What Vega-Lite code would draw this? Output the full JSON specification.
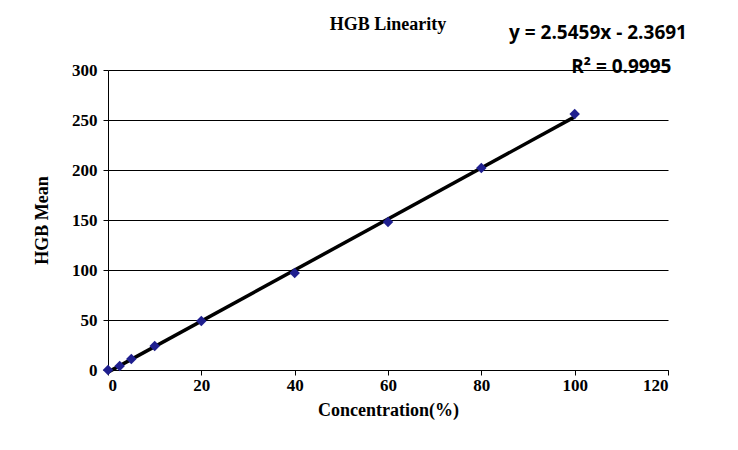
{
  "$schema": "https://vega.github.io/schema/vega-lite/v6.json",
  "width": 560,
  "height": 300,
  "autosize": "none",
  "padding": {"left": 108, "top": 70, "right": 70, "bottom": 80},
  "background": "white",
  "config": {"view": {"stroke": null}, "font": "Liberation Serif"},
  "data": {"values": [
    {"c": 0, "m": 0}, {"c": 2.5, "m": 4}, {"c": 5, "m": 11}, {"c": 10, "m": 24},
    {"c": 20, "m": 49}, {"c": 40, "m": 97}, {"c": 60, "m": 148}, {"c": 80, "m": 202}, {"c": 100, "m": 256}
  ]},
  "encoding": {
    "x": {"field": "c", "type": "quantitative", "title": "Concentration(%)",
      "scale": {"domain": [0, 120]},
      "axis": {"values": [0, 20, 40, 60, 80, 100, 120], "grid": false, "domainColor": "black", "tickColor": "black", "labelFont": "Liberation Serif", "labelFontSize": 17, "labelFontWeight": "bold", "labelColor": "black", "titleFont": "Liberation Serif", "titleFontSize": 18, "titleColor": "black", "titlePadding": 8}},
    "y": {"field": "m", "type": "quantitative", "title": "HGB Mean",
      "scale": {"domain": [0, 300]},
      "axis": {"values": [0, 50, 100, 150, 200, 250, 300], "gridColor": "black", "gridWidth": 1, "domainColor": "black", "tickColor": "black", "labelFont": "Liberation Serif", "labelFontSize": 17, "labelFontWeight": "bold", "labelColor": "black", "labelPadding": 6, "titleFont": "Liberation Serif", "titleFontSize": 18, "titleColor": "black", "titlePadding": 20}}
  },
  "layer": [
    {"mark": {"type": "line", "color": "black", "strokeWidth": 3.5},
     "transform": [{"regression": "m", "on": "c", "extent": [0, 100]}]},
    {"mark": {"type": "point", "shape": "diamond", "filled": true, "color": "#1f1f8f", "size": 110, "opacity": 1}},
    {"data": {"values": [
      {"c": 60, "m": 345, "t": "HGB Linearity"}
    ]},
     "mark": {"type": "text", "font": "Liberation Serif", "fontSize": 18, "fontWeight": "bold", "color": "black", "align": "center", "baseline": "middle", "clip": false},
     "encoding": {"text": {"field": "t"}}},
    {"data": {"values": [
      {"c": 105, "m": 337, "t": "y = 2.5459x - 2.3691"},
      {"c": 110, "m": 303, "t": "R² = 0.9995"}
    ]},
     "mark": {"type": "text", "font": "Open Sans", "fontSize": 19, "fontWeight": "bold", "color": "black", "align": "center", "baseline": "middle", "clip": false},
     "encoding": {"text": {"field": "t"}}}
  ]
}
